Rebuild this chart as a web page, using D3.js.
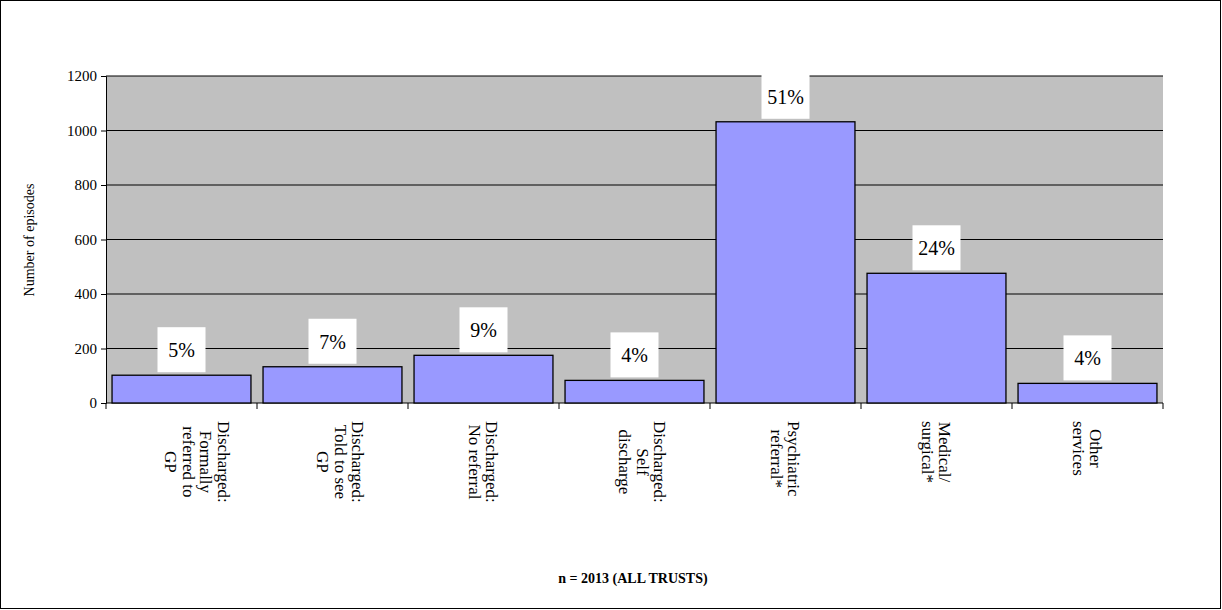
<!DOCTYPE html>
<html><head><meta charset="utf-8">
<script src="https://cdn.jsdelivr.net/npm/d3@7"></script>
<style>body{margin:0;background:#fff}svg text{font-family:"Liberation Serif","Times New Roman",serif}</style>
</head><body><div id="chart"></div>
<script>
var categories = [
  ["Discharged:", "Formally", "referred to", "GP"],
  ["Discharged:", "Told to see", "GP"],
  ["Discharged:", "No referral"],
  ["Discharged:", "Self", "discharge"],
  ["Psychiatric", "referral*"],
  ["Medical/", "surgical*"],
  ["Other", "services"]
];
var values = [102, 133, 175, 83, 1032, 476, 72];
var percents = ["5%", "7%", "9%", "4%", "51%", "24%", "4%"];
var yTicks = [0, 200, 400, 600, 800, 1000, 1200];

var svg = d3.select("#chart").append("svg").attr("width", 1222).attr("height", 610);
svg.append("rect").attr("x", 0.5).attr("y", 0.5).attr("width", 1220).attr("height", 608)
  .attr("fill", "#fff").attr("stroke", "#000");

var pLeft = 106, pRight = 1163, pTop = 76, pBottom = 403;
var x = d3.scaleBand().domain(d3.range(categories.length)).range([pLeft, pRight]);
var y = d3.scaleLinear().domain([0, 1200]).range([pBottom, pTop]);

svg.append("rect").attr("x", pLeft).attr("y", pTop).attr("width", pRight - pLeft).attr("height", pBottom - pTop)
  .attr("fill", "#c0c0c0");

svg.append("g").selectAll("line").data(yTicks.slice(1)).enter().append("line")
  .attr("x1", pLeft).attr("x2", pRight).attr("y1", d => y(d)).attr("y2", d => y(d))
  .attr("stroke", "#000").attr("stroke-width", 1);

var yAxis = svg.append("g").attr("transform", `translate(${pLeft},0)`)
  .call(d3.axisLeft(y).tickValues(yTicks).tickFormat(d3.format("d")).tickSize(5).tickPadding(4));
yAxis.attr("font-family", null);
yAxis.selectAll("text").attr("font-size", 15).attr("fill", "#000");

var xAxis = svg.append("g").attr("transform", `translate(0,${pBottom})`);
xAxis.append("line").attr("x1", pLeft).attr("x2", pRight).attr("stroke", "#000");
xAxis.selectAll(".tickmark").data(d3.range(categories.length + 1)).enter().append("line")
  .attr("x1", d => pLeft + d * x.step()).attr("x2", d => pLeft + d * x.step())
  .attr("y1", 0).attr("y2", 6).attr("stroke", "#000");

var bw = x.bandwidth() * 0.92;
svg.append("g").selectAll("rect").data(values).enter().append("rect")
  .attr("x", (d, i) => x(i) + (x.bandwidth() - bw) / 2).attr("width", bw)
  .attr("y", d => y(d)).attr("height", d => pBottom - y(d))
  .attr("fill", "#9999ff").attr("stroke", "#000").attr("stroke-width", 1.3);

var lab = svg.append("g").selectAll("g").data(values).enter().append("g");
lab.append("rect").attr("x", (d, i) => x(i) + x.bandwidth() / 2 - 24).attr("width", 48)
  .attr("y", d => y(d) - 48).attr("height", 45).attr("fill", "#fff");
lab.append("text").attr("x", (d, i) => x(i) + x.bandwidth() / 2).attr("y", d => y(d) - 18)
  .attr("text-anchor", "middle").attr("font-size", 20).text((d, i) => percents[i]);

categories.forEach(function(lines, i) {
  var n = lines.length, sp = 17.5;
  var cx = x(i) + x.bandwidth() / 2 + (n - 2) * 8;
  var g = svg.append("g");
  var ts = lines.map(function(l, j) {
    return g.append("text").attr("font-size", 17).attr("text-anchor", "middle").text(l)
      .attr("dy", "0.35em")
      .attr("y", -((n - 1) / 2 - j) * sp);
  });
  var w = d3.max(ts, t => t.node().getComputedTextLength());
  ts.forEach(t => t.attr("x", w / 2));
  g.attr("transform", `translate(${cx},${421}) rotate(90)`);
});

svg.append("text").attr("transform", "translate(34,240) rotate(-90)").attr("text-anchor", "middle")
  .attr("font-size", 14).text("Number of episodes");
svg.append("text").attr("x", 633).attr("y", 583).attr("text-anchor", "middle")
  .attr("font-size", 14).attr("font-weight", "bold").text("n = 2013 (ALL TRUSTS)");
</script></body></html>
